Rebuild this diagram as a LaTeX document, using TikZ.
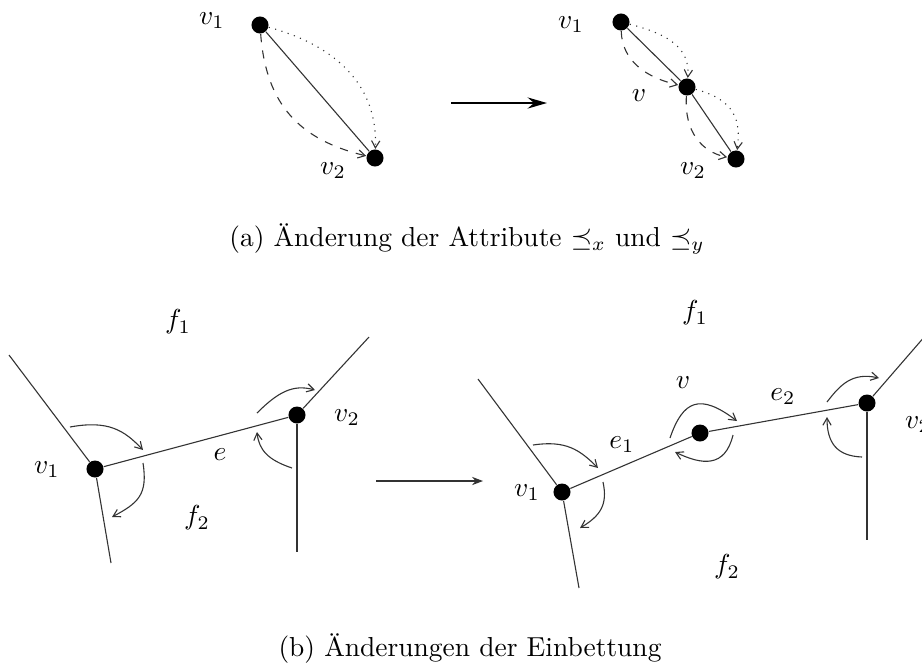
\documentclass[tikz,border=0pt]{standalone}
\usepackage{amsmath,amssymb}
\usepackage{tikz}
\usetikzlibrary{positioning, arrows.meta, calc}

\begin{document}
\begin{tikzpicture}[
        x=0.364pt, y=-0.364pt,
        dot/.style       ={circle, fill=black, inner sep=0pt, minimum size=6.2pt},
        lbl/.style       ={inner sep=0pt},
        edge/.style      ={draw=black!80, thin},
        turn/.style      ={draw=black!80, thin, -{Straight Barb[length=2.6pt,width=3pt]}},
        dsh/.style       ={turn, dashed},
        dtt/.style       ={turn, dotted},
        bigarr/.style    ={-{Stealth[length=7pt,width=4pt]}, line width=1pt},
        midarr/.style    ={draw=black!80, thin, -{Stealth[length=4pt,width=3pt]}}
    ]
      \useasboundingbox (0,0) rectangle (922,662);

      % ===== (a) LEFT =====
      \node[dot] (a1)  at (260,25)  {};
      \node[dot] (a2)  at (375,158) {};
      \node[lbl] at (212,21)  {$v_1$};
      \node[lbl] at (333,171) {$v_2$};
      \draw[edge] (a1) -- (a2);
      \draw[dsh] (a1) .. controls (266,105) and (300,140) .. (a2);
      \draw[dtt] (a1) .. controls (335,45) and (378,85) .. (a2);

      % ===== (a) RIGHT =====
      \node[dot] (b1)  at (621,22)  {};
      \node[dot] (bv)  at (687,87)  {};
      \node[dot] (b2)  at (736,159) {};
      \node[lbl] at (571,25)  {$v_1$};
      \node[lbl] at (639,96)  {$v$};
      \node[lbl] at (693,171) {$v_2$};
      \draw[edge] (b1) -- (bv) -- (b2);
      \draw[dsh] (b1) .. controls (622,62) and (648,78) .. (bv);
      \draw[dtt] (b1) .. controls (672,35) and (690,50) .. (bv);
      \draw[dsh] (bv) .. controls (684,132) and (702,152) .. (b2);
      \draw[dtt] (bv) .. controls (735,100) and (741,120) .. (b2);

      \coordinate (pa) at (451,103);
      \coordinate (qa) at (547,103);
      \draw[bigarr] (pa) -- (qa);
      \node[lbl] (capa) at (467,239) {(a) Änderung der Attribute $\preceq_x$ und $\preceq_y$};

      % ===== (b) LEFT =====
      \node[dot] (c1) at (95,469)  {};
      \node[dot] (c2) at (297,415) {};
      \coordinate (ca) at (9,355);
      \coordinate (cb) at (111,563);
      \coordinate (cc) at (369,337);
      \coordinate (cd) at (297,552);
      \draw[edge] (c1) -- (c2);
      \draw[edge] (c1) -- (ca);
      \draw[edge] (c1) -- (cb);
      \draw[edge] (c2) -- (cc);
      \draw[edge] (c2) -- (cd);
      \node[lbl] at (47,470)  {$v_1$};
      \node[lbl] at (347,418) {$v_2$};
      \node[lbl] at (220,455) {$e$};
      \node[lbl] at (178,322) {$f_1$};
      \node[lbl] at (197,518) {$f_2$};
      % rotations round v1 and v2
      \coordinate (s1) at (70,427);   \coordinate (t1) at (143,450);
      \coordinate (s2) at (143,463);  \coordinate (t2) at (112,517);
      \coordinate (s3) at (257,413);  \coordinate (t3) at (315,390);
      \coordinate (s4) at (292,468);  \coordinate (t4) at (257,432);
      \draw[turn] (s1) .. controls (108,420) and (124,430) .. (t1);
      \draw[turn] (s2) .. controls (148,495) and (138,503) .. (t2);
      \draw[turn] (s3) .. controls (278,392) and (293,384) .. (t3);
      \draw[turn] (s4) .. controls (268,460) and (259,450) .. (t4);

      \coordinate (pb) at (376,481);
      \coordinate (qb) at (483,481);
      \draw[midarr] (pb) -- (qb);

      % ===== (b) RIGHT =====
      \node[dot] (d1) at (562,492) {};
      \node[dot] (dv) at (700,433) {};
      \node[dot] (d2) at (867,403) {};
      \coordinate (da) at (478,379);
      \coordinate (db) at (579,588);
      \coordinate (dc) at (945,313);
      \coordinate (dd) at (867,540);
      \draw[edge] (d1) -- (dv) -- (d2);
      \draw[edge] (d1) -- (da);
      \draw[edge] (d1) -- (db);
      \draw[edge] (d2) -- (dc);
      \draw[edge] (d2) -- (dd);
      \node[lbl] at (527,493) {$v_1$};
      \node[lbl] at (622,445) {$e_1$};
      \node[lbl] at (683,383) {$v$};
      \node[lbl] at (783,397) {$e_2$};
      \node[lbl] at (695,313) {$f_1$};
      \node[lbl] at (727,567) {$f_2$};
      \node[lbl] at (918,425) {$v_2$};
      % rotations round v1, v and v2
      \coordinate (u1) at (533,445);  \coordinate (w1) at (598,468);
      \coordinate (u2) at (603,482);  \coordinate (w2) at (580,528);
      \coordinate (u3) at (670,438);  \coordinate (w3) at (737,421);
      \coordinate (u4) at (733,435);  \coordinate (w4) at (675,452);
      \coordinate (u5) at (827,402);  \coordinate (w5) at (879,378);
      \coordinate (u6) at (862,457);  \coordinate (w6) at (827,417);
      \draw[turn] (u1) .. controls (566,440) and (580,450) .. (w1);
      \draw[turn] (u2) .. controls (608,505) and (600,516) .. (w2);
      \draw[turn] (u3) .. controls (683,400) and (700,393) .. (w3);
      \draw[turn] (u4) .. controls (725,468) and (702,465) .. (w4);
      \draw[turn] (u5) .. controls (840,385) and (852,372) .. (w5);
      \draw[turn] (u6) .. controls (836,456) and (827,442) .. (w6);

      \node[lbl] (capb) at (470,648) {(b) Änderungen der Einbettung};
    \end{tikzpicture}
\end{document}
